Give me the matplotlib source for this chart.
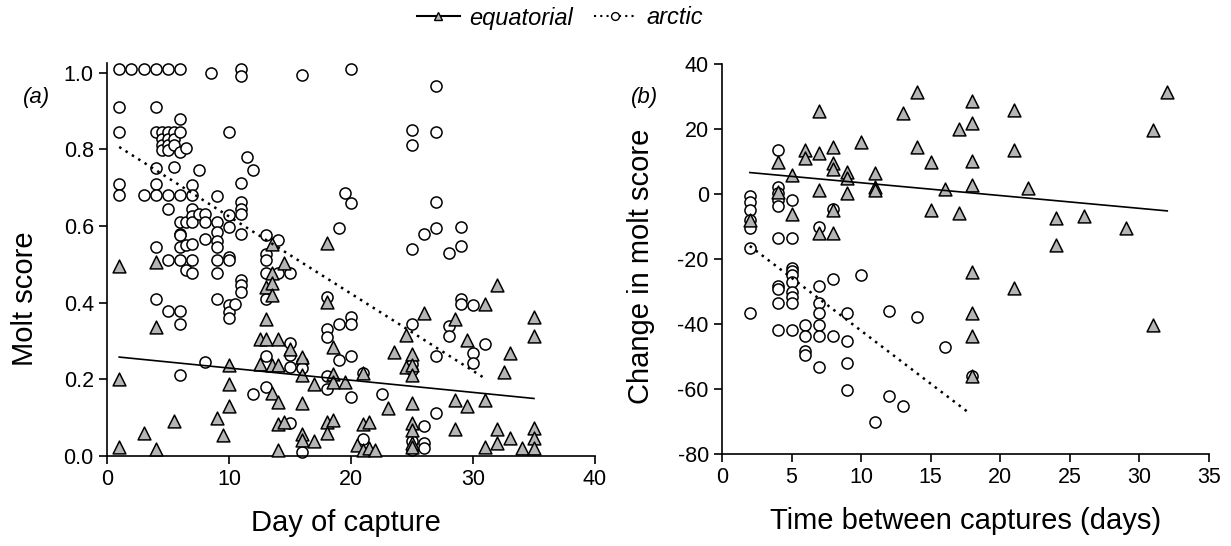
import numpy as np
import matplotlib
matplotlib.use("Agg")
import matplotlib.pyplot as plt
from matplotlib.lines import Line2D

plt.rcParams['font.family'] = ['Liberation Sans', 'DejaVu Sans']
plt.rcParams['axes.unicode_minus'] = False

# ---- panel (a): molt score vs day of capture ----
# arctic birds (day, score)
arc_a = {
    1: [1.01, 0.91, 0.845, 0.71, 0.68],
    2: [1.01],
    3: [1.01, 0.68],
    4: [1.01, 0.91, 0.845, 0.75, 0.71, 0.68, 0.545, 0.41],
    4.5: [0.845, 0.827, 0.812, 0.797],
    5: [1.01, 0.845, 0.827, 0.812, 0.797, 0.68, 0.645, 0.51, 0.378],
    5.5: [0.845, 0.827, 0.812, 0.753],
    6: [1.01, 0.879, 0.845, 0.793, 0.68, 0.61, 0.58, 0.576, 0.545, 0.51, 0.378, 0.344, 0.211],
    6.5: [0.803, 0.61, 0.55, 0.486],
    7: [0.706, 0.68, 0.645, 0.626, 0.61, 0.554, 0.51, 0.477],
    7.5: [0.747, 0.632],
    8: [0.632, 0.61, 0.567, 0.245],
    8.5: [1.0],
    9: [0.678, 0.61, 0.584, 0.562, 0.545, 0.51, 0.477, 0.41],
    10: [0.845, 0.629, 0.597, 0.52, 0.51, 0.393, 0.376, 0.361],
    10.5: [0.396],
    11: [1.01, 0.99, 0.712, 0.662, 0.645, 0.632, 0.58, 0.46, 0.445, 0.428],
    11.5: [0.78],
    12: [0.747, 0.161],
    13: [0.576, 0.528, 0.51, 0.477, 0.41, 0.26, 0.18],
    14: [0.5625, 0.477],
    15: [0.477, 0.295, 0.263, 0.231, 0.085],
    16: [0.995, 0.245, 0.229, 0.011],
    18: [0.415, 0.332, 0.311, 0.208, 0.176],
    19: [0.595, 0.344, 0.25],
    19.5: [0.687],
    20: [1.01, 0.661, 0.363, 0.344, 0.26, 0.155],
    21: [0.217, 0.044],
    22.5: [0.163],
    25: [0.849, 0.812, 0.539, 0.345, 0.241, 0.224, 0.04, 0.016],
    26: [0.579, 0.078, 0.033, 0.02],
    27: [0.964, 0.846, 0.662, 0.595, 0.26, 0.111],
    28: [0.53, 0.34, 0.3125],
    29: [0.597, 0.547, 0.41, 0.396],
    30: [0.393, 0.269, 0.243],
    31: [0.293],
}
# equatorial birds (day, score)
equ_a = {
    1: [0.495, 0.202, 0.023],
    3: [0.059],
    4: [0.506, 0.337, 0.017],
    5.5: [0.092],
    9: [0.1],
    9.5: [0.055],
    10: [0.237, 0.188, 0.131],
    12.5: [0.306, 0.241],
    13: [0.358, 0.44, 0.306],
    13.5: [0.554, 0.477, 0.45, 0.419, 0.237, 0.165],
    14: [0.306, 0.237, 0.141, 0.083, 0.016],
    14.5: [0.503, 0.089],
    15: [0.28],
    16: [0.259, 0.211, 0.137, 0.057, 0.042],
    17: [0.189, 0.04],
    18: [0.556, 0.402, 0.089, 0.061],
    18.5: [0.285, 0.215, 0.194, 0.095],
    19.5: [0.194],
    20.5: [0.029],
    21: [0.217, 0.083, 0.016],
    21.5: [0.089, 0.02],
    22: [0.016],
    23: [0.124],
    23.5: [0.271],
    24.5: [0.315, 0.233],
    25: [0.267, 0.237, 0.211, 0.139, 0.085, 0.068, 0.033, 0.023],
    26: [0.373],
    28.5: [0.358, 0.145, 0.07],
    29.5: [0.302, 0.13],
    31: [0.396, 0.146, 0.024],
    32: [0.445, 0.07, 0.033],
    32.5: [0.22],
    33: [0.268, 0.046],
    34: [0.02],
    35: [0.363, 0.3125, 0.072, 0.046, 0.02],
}
# fitted lines (end points)
equ_a_fit_x = [1, 35]
equ_a_fit_y = [0.258, 0.15]
arc_a_fit_x = [1, 30.8]
arc_a_fit_y = [0.806, 0.206]

# ---- panel (b): change in molt score vs time between captures ----
equ_b = {
    2: [-8],
    4: [10, 0.7],
    5: [5.8, -6],
    6: [13.5, 11],
    7: [25.6, 12.7, 1.2, -12],
    8: [14.6, 9.4, 7.6, -4.9, -12],
    9: [6.9, 4.8, 0.4],
    10: [16.1],
    11: [6.4, 2.3, 1.2],
    13: [25],
    14: [31.5, 14.4],
    15: [10, -4.9],
    16: [1.4],
    17: [19.9, -5.9],
    18: [28.7, 21.7, 10.2, 2.8, -23.9, -36.7, -43.7, -56],
    21: [26, 13.5, -29],
    22: [2],
    24: [-7.5, -15.7],
    26: [-6.7],
    29: [-10.6],
    31: [19.7, -40.3],
    32: [31.5],
}
arc_b = {
    2: [-0.5, -2.4, -4.9, -8, -10.6, -16.7, -36.7],
    4: [13.5, 2.3, 0.2, -1.8, -3.6, -13.4, -28.3, -29.3, -33.4, -41.8],
    5: [-1.8, -13.4, -22.9, -23.6, -24.9, -27, -30.1, -31.6, -33.4, -41.8],
    6: [-40.3, -43.7, -48.2, -49.5],
    7: [-10, -28.3, -33.6, -36.7, -40.3, -43.7, -53.3],
    8: [-4.7, -26.2, -43.7],
    9: [-36.7, -45.1, -51.9, -60.3],
    10: [-25],
    11: [-70.3],
    12: [-35.9, -62],
    13: [-65.2],
    14: [-37.7],
    16: [-47],
    18: [-56],
}
equ_b_fit_x = [2, 32]
equ_b_fit_y = [6.6, -5.2]
arc_b_fit_x = [2, 17.8]
arc_b_fit_y = [-16, -67.5]


def flat(d):
    xs, ys = [], []
    for k, v in d.items():
        xs += [k] * len(v)
        ys += v
    return np.array(xs, float), np.array(ys, float)


GREY = '#b5b5b5'
DOT = (0, (1, 2))


def draw(ax, arc, equ, afx, afy, efx, efy):
    x, y = flat(arc)
    ax.scatter(x, y, s=64, marker='o', facecolor='white', edgecolor='black',
               linewidth=1.1, zorder=2, clip_on=False)
    x, y = flat(equ)
    ax.scatter(x, y, s=85, marker='^', facecolor=GREY, edgecolor='black',
               linewidth=1.1, zorder=3, clip_on=False)
    ax.plot(efx, efy, color='black', lw=1.2, zorder=4)
    ax.plot(afx, afy, color='black', lw=1.8, ls=DOT, zorder=4)
    for s in ['top', 'right']:
        ax.spines[s].set_visible(False)
    for s in ['left', 'bottom']:
        ax.spines[s].set_linewidth(1.2)
    ax.tick_params(direction='out', length=6, width=1.2, labelsize=15.5)


fig = plt.figure(figsize=(12.31, 5.46), dpi=100)
ax_a = fig.add_axes([107 / 1231, 90 / 546, 488 / 1231, 393 / 546])
ax_b = fig.add_axes([722 / 1231, 92 / 546, 487 / 1231, 390 / 546])

draw(ax_a, arc_a, equ_a, arc_a_fit_x, arc_a_fit_y, equ_a_fit_x, equ_a_fit_y)
ax_a.set_xlim(0, 40)
ax_a.set_ylim(0, 1.025)
ax_a.set_xticks([0, 10, 20, 30, 40])
ax_a.set_yticks(np.arange(0, 1.01, 0.2))
ax_a.set_yticklabels(['%.1f' % v for v in np.arange(0, 1.01, 0.2)])
ax_a.set_xlabel('Day of capture', fontsize=21)
ax_a.set_ylabel('Molt score', fontsize=21)
ax_a.xaxis.set_label_coords(0.49, -0.135)
ax_a.yaxis.set_label_coords(-0.14, 0.40)
fig.text(37 / 1231, 1 - 97 / 546, '(a)', fontsize=16, style='italic',
         ha='center', va='center')

draw(ax_b, arc_b, equ_b, arc_b_fit_x, arc_b_fit_y, equ_b_fit_x, equ_b_fit_y)
ax_b.set_xlim(0, 35)
ax_b.set_ylim(-80, 40)
ax_b.set_xticks(range(0, 36, 5))
ax_b.set_yticks(range(-80, 41, 20))
ax_b.set_xlabel('Time between captures (days)', fontsize=21)
ax_b.set_ylabel('Change in molt score', fontsize=21)
ax_b.xaxis.set_label_coords(0.5, -0.135)
ax_b.yaxis.set_label_coords(-0.137, 0.48)
fig.text(645 / 1231, 1 - 97 / 546, '(b)', fontsize=16, style='italic',
         ha='center', va='center')

handles = [
    Line2D([], [], color='black', lw=1.5, marker='^', markersize=9,
           markerfacecolor=GREY, markeredgecolor='black'),
    Line2D([], [], color='black', lw=1.5, ls=DOT, marker='o', markersize=8,
           markerfacecolor='white', markeredgecolor='black'),
]
fig.legend(handles, ['equatorial', 'arctic'], loc='center',
           bbox_to_anchor=(560 / 1231, 1 - 18 / 546), ncol=2, frameon=False,
           prop={'size': 17, 'style': 'italic'}, handlelength=1.8,
           handletextpad=0.4, columnspacing=0.9, markerscale=0.7)

fig.savefig('out.png', dpi=100)
